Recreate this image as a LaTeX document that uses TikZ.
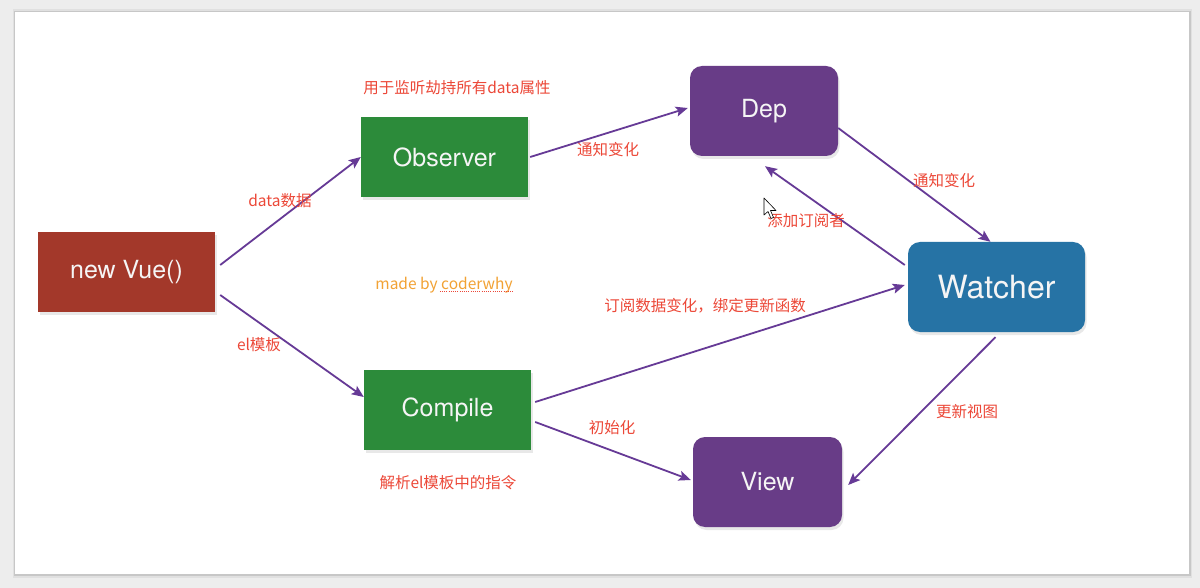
\documentclass[tikz,border=0pt]{standalone}
\usepackage{fontspec}
\setmainfont{TeX Gyre Heros}
\newfontfamily\cjk{Noto Sans CJK SC}
\usetikzlibrary{shadows,arrows.meta}
\definecolor{bgc}{RGB}{237,237,237}
\definecolor{vuered}{RGB}{163,56,42}
\definecolor{obsgreen}{RGB}{44,139,58}
\definecolor{deppurple}{RGB}{104,60,135}
\definecolor{watchblue}{RGB}{38,115,165}
\definecolor{arrpurple}{RGB}{102,58,150}
\definecolor{labred}{RGB}{236,72,56}
\definecolor{madeorange}{RGB}{242,162,52}
\tikzset{
  box/.style={minimum width=#1, inner sep=0pt, text=white!96!black,
    font=\fontsize{25}{30}\selectfont,
    drop shadow={opacity=0.18, shadow xshift=1.5pt, shadow yshift=-3pt}},
  sqbox/.style={box=#1, minimum height=80pt},
  rbox/.style={box=#1, minimum height=90pt, rounded corners=12pt},
  arr/.style={draw=arrpurple, line width=1.8pt, -{Stealth[length=12pt,width=10pt,inset=2.5pt]}},
  lab/.style={font=\cjk\fontsize{15.5}{18}\selectfont, text=labred, inner sep=0pt},
}
\begin{document}
\begin{tikzpicture}[x=1pt,y=-1pt]
\useasboundingbox (0,0) rectangle (1200,588);
\fill[bgc] (0,0) rectangle (1200,588);
\fill[black!12] (12.5,9.5) rectangle (1192,578);
\fill[black!22] (13.8,10.8) rectangle (1190.6,576);
\fill[white] (15,12) rectangle (1189,574);

\node[sqbox=177pt, fill=vuered] (vue) at (126.5,272) {new Vue()};
\node[sqbox=167pt, fill=obsgreen] (obs) at (444.5,157) {Observer};
\node[sqbox=167pt, fill=obsgreen] (comp) at (447.5,410) {Compile};
\node[rbox=148pt, fill=deppurple] (dep) at (764,111) {Dep};
\node[rbox=177pt, fill=watchblue, font=\fontsize{32}{38}\selectfont] (watch) at (996.5,287) {Watcher};
\node[rbox=149pt, fill=deppurple] (view) at (767.5,482) {View};

\draw[arr] ([shift={(5,-7)}]vue.east) -- ([shift={(0,0)}]obs.west);
\draw[arr] ([shift={(5,23)}]vue.east) -- ([shift={(0,-13)}]comp.west);
\draw[arr] ([shift={(2,0)}]obs.east) -- ([shift={(-2,-3)}]dep.west);
\draw[arr] ([shift={(0,17)}]dep.east) -- ([shift={(-6,0)}]watch.north);
\draw[arr] ([shift={(-3,-22)}]watch.west) -- ([shift={(1,10)}]dep.south);
\draw[arr] ([shift={(4,-8)}]comp.east) -- ([shift={(-3,-2)}]watch.west);
\draw[arr] ([shift={(4,12)}]comp.east) -- ([shift={(-2,-2)}]view.west);
\draw[arr] ([shift={(-1,5)}]watch.south) -- ([shift={(6,3)}]view.east);

\node[lab] (l1) at (457,88) {用于监听劫持所有data属性};
\node[lab] (l2) at (280,201) {data数据};
\node[lab] (l3) at (259,345) {el模板};
\node[lab] (l4) at (608,150) {通知变化};
\node[lab] (l5) at (944,181) {通知变化};
\node[lab] (l6) at (806,221) {添加订阅者};
\node[lab] (l7) at (705,306) {订阅数据变化，绑定更新函数};
\node[lab] (l8) at (612,428) {初始化};
\node[lab] (l9) at (967,412) {更新视图};
\node[lab] (l10) at (448,483) {解析el模板中的指令};
\node[lab, text=madeorange, font=\cjk\fontsize{15.5}{18}\selectfont] (made) at (444,285) {made by coderwhy};
\draw[labred, line width=1pt, dash pattern=on 1pt off 1.2pt] ([shift={(-73,7)}]made.east) -- ([shift={(0,7)}]made.east);

% mouse cursor
\draw[black, fill=white, line width=0.6pt, line join=round]
  (764,198) -- (764,215) -- (768,211.5) -- (771,218.5) -- (773.5,217.5) -- (770.5,210.5) -- (776,210.5) -- cycle;
\end{tikzpicture}
\end{document}
